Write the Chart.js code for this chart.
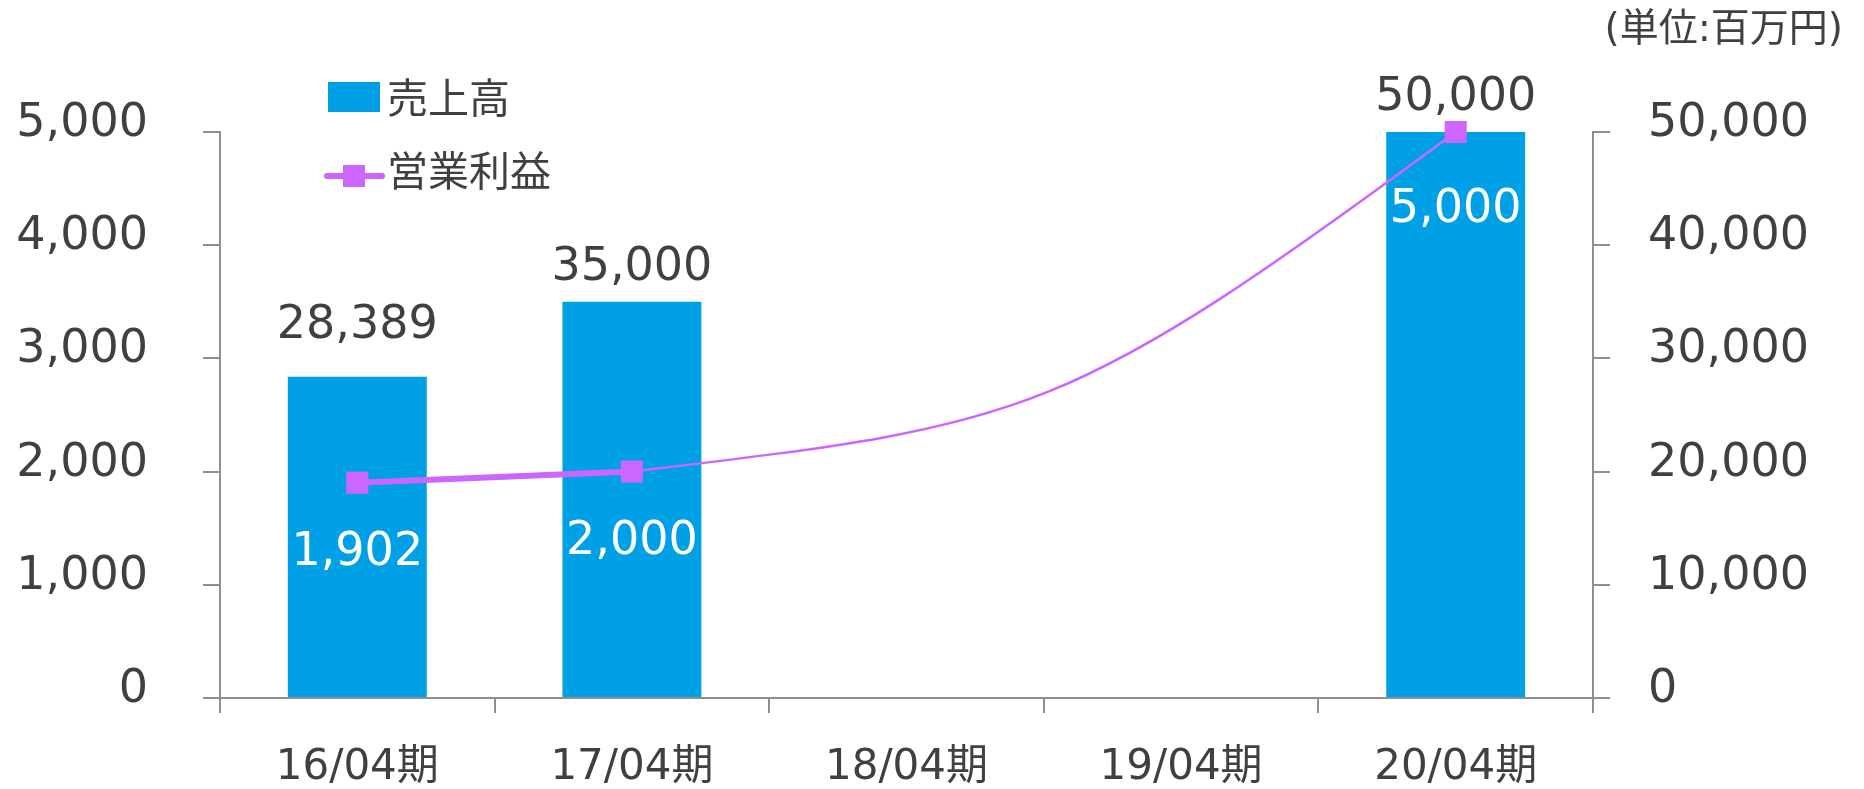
<!DOCTYPE html>
<html>
<head>
<meta charset="utf-8">
<script src="https://cdn.jsdelivr.net/npm/chart.js@4/dist/chart.umd.min.js"></script>
<style>
html,body{margin:0;padding:0;background:#ffffff;}
#wrap{width:1864px;height:789px;position:relative;}
</style>
</head>
<body>
<div id="wrap"><canvas id="c" width="1864" height="789"></canvas></div>
<script>
// ---- data ----
const categories = ['16/04期', '17/04期', '18/04期', '19/04期', '20/04期'];
const salesLabel = '売上高';
const profitLabel = '営業利益';
const sales = [28389, 35000, null, null, 50000];
const profit = [1902, 2000, null, null, 5000];
const leftTicks = [0, 1000, 2000, 3000, 4000, 5000];
const rightTicks = [0, 10000, 20000, 30000, 40000, 50000];
const unitText = '(単位:百万円)';

// ---- styles ----
const BAR_COLOR = '#00A0E6';
const LINE_COLOR = '#CC66FF';
const AXIS_COLOR = '#8f8f8f';
const TEXT_COLOR = '#404040';
const NUM_FONT = '"DejaVu Sans", "Noto Sans CJK JP", sans-serif';
const JP_FONT = '"Noto Sans CJK JP", "DejaVu Sans", sans-serif';
const fmt = v => Number(v).toLocaleString('en-US');

const curvePlugin = {
  id: 'curveShape',
  beforeDatasetDraw(chart, args, opts) {
    if (args.index !== 1) return;
    const line = args.meta.dataset;
    line.updateControlPoints(chart.chartArea, 'x');
    const pts = args.meta.data.map((p, i) => ({ p, i })).filter(o => profit[o.i] != null);
    for (let k = 0; k < pts.length - 1; k++) {
      const a = pts[k], b = pts[k + 1];
      const dx = b.p.x - a.p.x, dy = b.p.y - a.p.y;
      let h0x, h0y, h1x, h1y;
      if (b.i - a.i === 1) {
        h0x = dx / 3; h0y = dy / 3; h1x = dx / 3; h1y = dy / 3;
      } else {
        h0x = opts.gapOut[0] * dx; h0y = opts.gapOut[1] * dy;
        h1x = opts.gapIn[0] * dx; h1y = opts.gapIn[1] * dy;
      }
      a.p.cp2x = a.p.x + h0x; a.p.cp2y = a.p.y + h0y;
      b.p.cp1x = b.p.x - h1x; b.p.cp1y = b.p.y - h1y;
    }
    delete line._path;
  }
};

const labelPlugin = {
  id: 'valueLabels',
  afterDatasetsDraw(chart, args, opts) {
    const ctx = chart.ctx;
    ctx.save();
    ctx.font = '46px ' + NUM_FONT;
    ctx.textAlign = 'center';
    ctx.textBaseline = 'alphabetic';
    ctx.fillStyle = TEXT_COLOR;
    chart.getDatasetMeta(0).data.forEach((el, i) => {
      if (sales[i] == null) return;
      ctx.fillText(fmt(sales[i]), el.x, el.y - opts.barGap - (opts.barNudge[i] || 0));
    });
    ctx.fillStyle = '#ffffff';
    chart.getDatasetMeta(1).data.forEach((el, i) => {
      if (profit[i] == null) return;
      ctx.fillText(fmt(profit[i]), el.x, el.y + opts.lineGap + (opts.lineNudge[i] || 0));
    });
    ctx.restore();
  }
};

const decorPlugin = {
  id: 'decor',
  afterDraw(chart, args, o) {
    const ctx = chart.ctx;
    ctx.save();
    // unit text
    ctx.fillStyle = TEXT_COLOR;
    ctx.font = '39px ' + NUM_FONT;
    ctx.textAlign = 'right';
    ctx.textBaseline = 'middle';
    ctx.fillText(unitText, o.unitX, o.unitY);
    // legend: bar
    ctx.fillStyle = BAR_COLOR;
    ctx.fillRect(o.legX, o.leg1Y - 15, 52, 30);
    // legend: line
    ctx.strokeStyle = LINE_COLOR;
    ctx.lineWidth = 6;
    ctx.lineCap = 'round';
    ctx.beginPath();
    ctx.moveTo(o.legX - 1, o.leg2Y);
    ctx.lineTo(o.legX + 54, o.leg2Y);
    ctx.stroke();
    ctx.fillStyle = LINE_COLOR;
    ctx.fillRect(o.legX + 15, o.leg2Y - 11, 22, 22);
    // legend texts
    ctx.fillStyle = TEXT_COLOR;
    ctx.font = '41px ' + JP_FONT;
    ctx.textAlign = 'left';
    ctx.textBaseline = 'middle';
    ctx.fillText(salesLabel, o.legX + 59, o.leg1Y);
    ctx.fillText(profitLabel, o.legX + 59, o.leg2Y - 6);
    ctx.restore();
  }
};

new Chart(document.getElementById('c'), {
  data: {
    labels: categories,
    datasets: [
      {
        type: 'bar',
        label: salesLabel,
        data: sales,
        yAxisID: 'y1',
        backgroundColor: BAR_COLOR,
        borderWidth: 0,
        barPercentage: 0.506,
        categoryPercentage: 1,
        order: 2
      },
      {
        type: 'line',
        label: profitLabel,
        data: profit,
        yAxisID: 'y',
        spanGaps: true,
        clip: false,
        tension: 0.4,
        borderColor: LINE_COLOR,
        borderWidth: 6,
        segment: {
          borderWidth: c => (profit[c.p0DataIndex] == null || c.p1DataIndex - c.p0DataIndex > 1) ? 2.5 : 6
        },
        pointStyle: 'rect',
        pointRadius: 15.6,
        pointHoverRadius: 15.6,
        pointBackgroundColor: LINE_COLOR,
        pointBorderWidth: 0,
        order: 1
      }
    ]
  },
  options: {
    responsive: false,
    devicePixelRatio: 1,
    animation: false,
    events: [],
    layout: { padding: { top: 132, left: 0, right: 0, bottom: 0 } },
    plugins: {
      legend: { display: false },
      tooltip: { enabled: false },
      curveShape: { gapOut: [0.48, 0.14], gapIn: [0.48, 0.86] },
      valueLabels: { barGap: 22, barNudge: [17, 0, 0, 0, 0], lineGap: 82, lineNudge: [0, 0, 0, 0, 8] },
      decor: { unitX: 1843, unitY: 31, legX: 328, leg1Y: 97, leg2Y: 176 }
    },
    scales: {
      x: {
        type: 'category',
        offset: true,
        grid: { offset: true, drawOnChartArea: false, drawTicks: true, tickLength: 15, color: AXIS_COLOR, lineWidth: 2 },
        border: { display: true, color: AXIS_COLOR, width: 2 },
        ticks: { font: { family: NUM_FONT, size: 42 }, color: TEXT_COLOR, padding: 30, maxRotation: 0, minRotation: 0, autoSkip: false },
        afterFit: s => { s.height = 91; }
      },
      y: {
        type: 'linear',
        position: 'left',
        min: leftTicks[0],
        max: leftTicks[leftTicks.length - 1],
        afterBuildTicks: s => { s.ticks = leftTicks.map(v => ({ value: v })); },
        grid: { drawOnChartArea: false, drawTicks: true, tickLength: 17, color: AXIS_COLOR, lineWidth: 2 },
        border: { display: true, color: AXIS_COLOR, width: 2 },
        ticks: { font: { family: NUM_FONT, size: 46 }, color: TEXT_COLOR, padding: 55, labelOffset: -8, callback: v => fmt(v) },
        afterFit: s => { s.width = 220; }
      },
      y1: {
        type: 'linear',
        position: 'right',
        min: rightTicks[0],
        max: rightTicks[rightTicks.length - 1],
        afterBuildTicks: s => { s.ticks = rightTicks.map(v => ({ value: v })); },
        grid: { drawOnChartArea: false, drawTicks: true, tickLength: 17, color: AXIS_COLOR, lineWidth: 2 },
        border: { display: true, color: AXIS_COLOR, width: 2 },
        ticks: { font: { family: NUM_FONT, size: 46 }, color: TEXT_COLOR, padding: 38, labelOffset: -8, callback: v => fmt(v) },
        afterFit: s => { s.width = 271; }
      }
    }
  },
  plugins: [curvePlugin, labelPlugin, decorPlugin]
});
</script>
</body>
</html>
